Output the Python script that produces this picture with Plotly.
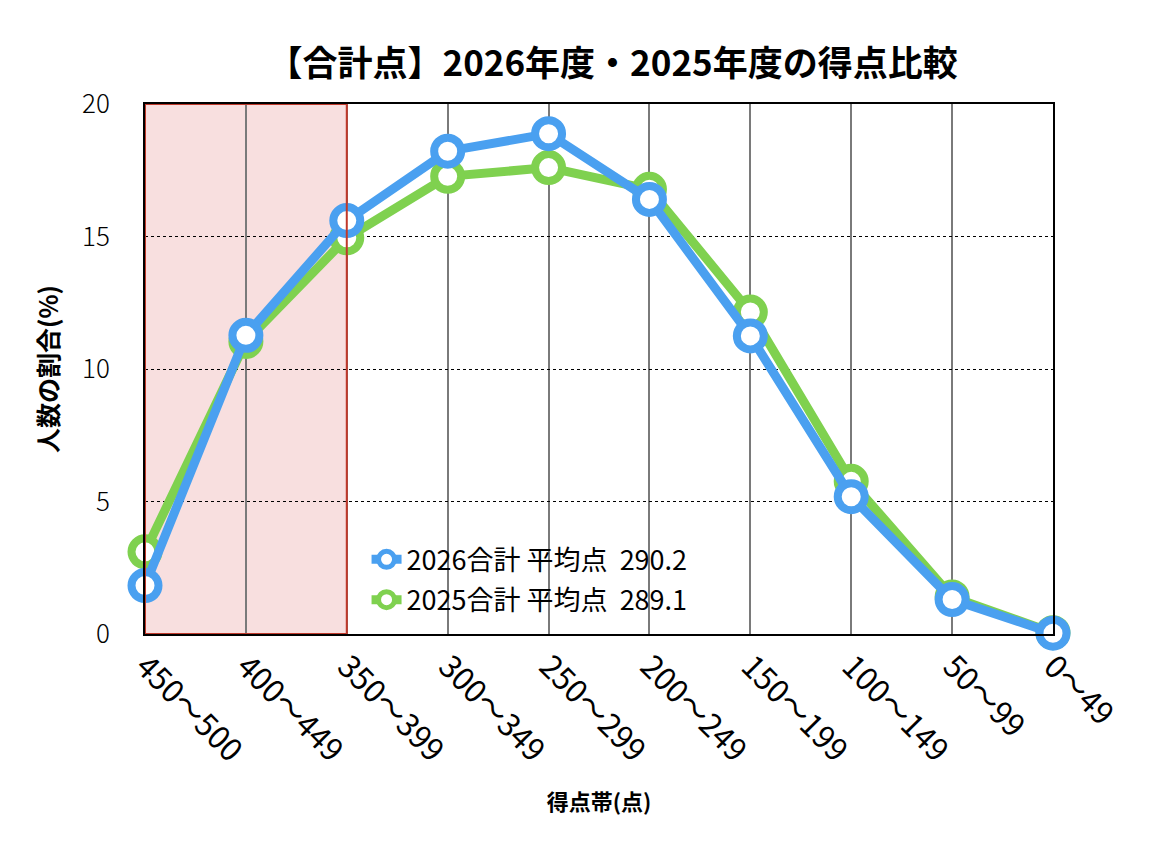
import plotly.graph_objects as go

categories = ["450〜500", "400〜449", "350〜399", "300〜349", "250〜299",
              "200〜249", "150〜199", "100〜149", "50〜99", "0〜49"]
values_2026 = [1.83, 11.27, 15.6, 18.22, 18.88, 16.4, 11.25, 5.18, 1.3, 0.03]
values_2025 = [3.1, 11.04, 14.95, 17.27, 17.6, 16.78, 12.15, 5.76, 1.4, 0.05]
name_2026 = "2026合計 平均点  290.2"
name_2025 = "2025合計 平均点  289.1"
y_ticks = [0, 5, 10, 15, 20]

BLUE = "#4aa0f0"
GREEN = "#7fd14f"
FONT = "Noto Sans CJK JP"

fig = go.Figure()

fig.add_trace(go.Scatter(
    x=categories, y=values_2025, name=name_2025, mode="lines+markers",
    line=dict(color=GREEN, width=9),
    marker=dict(symbol="circle", size=27, color="white", line=dict(color=GREEN, width=8)),
    cliponaxis=False, legend="legend2",
))
fig.add_trace(go.Scatter(
    x=categories, y=values_2026, name=name_2026, mode="lines+markers",
    line=dict(color=BLUE, width=9),
    marker=dict(symbol="circle", size=27, color="white", line=dict(color=BLUE, width=8)),
    cliponaxis=False, legend="legend",
))

# shaded highlight region 350 and above
fig.add_shape(type="rect", xref="x", yref="y", x0=0, x1=2, y0=0, y1=20,
              fillcolor="rgba(232,150,150,0.30)", line=dict(width=0),
              layer="below")
fig.add_shape(type="rect", xref="x", yref="y", x0=0, x1=2, y0=0, y1=20,
              fillcolor="rgba(0,0,0,0)", line=dict(color="#c0392b", width=2),
              layer="above")

legend_common = dict(xanchor="left", yanchor="middle", bgcolor="rgba(255,255,255,0)",
                     font=dict(size=27, family=FONT), itemwidth=30)

fig.update_layout(
    width=1169, height=859,
    margin=dict(l=137, r=124, t=96, b=233),
    paper_bgcolor="white", plot_bgcolor="white",
    font=dict(family=FONT, color="black"),
    title=dict(text="<b>【合計点】2026年度・2025年度の得点比較</b>",
               xref="paper", x=0.515, xanchor="center", y=0.935, yanchor="middle",
               font=dict(size=35, family=FONT, color="black")),
    legend=dict(x=0.244, y=0.140, **legend_common),
    legend2=dict(x=0.244, y=0.064, **legend_common),
    showlegend=True,
)

fig.update_xaxes(
    type="category", range=[0, 9], tickangle=45,
    tickfont=dict(size=31, family=FONT), ticks="",
    showgrid=True, gridcolor="#7a7a7a", gridwidth=1.5,
    showline=True, linecolor="black", linewidth=2, mirror=True,
    title=dict(text="<b>得点帯(点)</b>", font=dict(size=22, family=FONT), standoff=26),
)
fig.update_yaxes(
    range=[0, 20], tickvals=y_ticks, tickfont=dict(size=26, family=FONT, weight=300),
    showgrid=True, gridcolor="black", griddash="dot", gridwidth=1.2,
    showline=True, linecolor="black", linewidth=2, mirror=True,
    zeroline=False, ticks="", ticklabelstandoff=28,
    title=dict(text="<b>人数の割合(%)</b>", font=dict(size=25, family=FONT), standoff=16),
)

fig.write_html("out.html")
